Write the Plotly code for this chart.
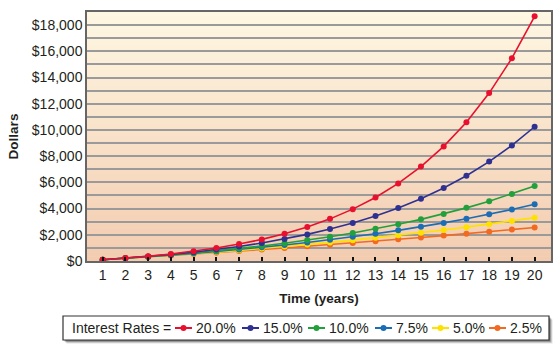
import plotly.graph_objects as go

years = list(range(1, 21))
rate_labels = ["20.0%", "15.0%", "10.0%", "7.5%", "5.0%", "2.5%"]
v20 = [100, 220, 364, 537, 744, 993, 1292, 1650, 2080, 2596, 3215, 3958, 4850, 5920, 7204, 8744, 10593, 12812, 15474, 18669]
v15 = [100, 215, 347, 499, 674, 875, 1107, 1373, 1679, 2030, 2435, 2900, 3435, 4050, 4758, 5572, 6508, 7584, 8821, 10244]
v10 = [100, 210, 331, 464, 611, 772, 949, 1144, 1358, 1594, 1853, 2138, 2452, 2798, 3177, 3595, 4054, 4560, 5116, 5728]
v75 = [100, 208, 323, 447, 581, 724, 879, 1045, 1223, 1415, 1621, 1842, 2081, 2337, 2612, 2908, 3226, 3568, 3935, 4330]
v50 = [100, 205, 315, 431, 553, 680, 814, 955, 1103, 1258, 1421, 1592, 1771, 1960, 2158, 2366, 2584, 2813, 3054, 3307]
v25 = [100, 203, 308, 415, 526, 639, 755, 874, 995, 1120, 1248, 1380, 1514, 1652, 1793, 1938, 2086, 2239, 2395, 2554]
series = [v20, v15, v10, v75, v50, v25]
colors = ["#E8102E", "#2E3192", "#22A03C", "#1B6DB6", "#FFE100", "#F26A22"]

FONT = "Liberation Sans, Arial, sans-serif"
W, H = 560, 352
ML, MR, MT, MB = 87, 9, 12, 91
PW, PH = W - ML - MR, H - MT - MB


def px2x(px):
    return (px - ML) / PW


def px2y(py):
    return (H - MB - py) / PH


fig = go.Figure()
for lab, vals, col in reversed(list(zip(rate_labels, series, colors))):
    fig.add_trace(go.Scatter(
        x=years, y=vals, name=lab, mode="lines+markers",
        line=dict(color=col, width=1.6),
        marker=dict(color=col, size=6),
        showlegend=False,
    ))

shapes = []
annotations = []
# gradient background stripes
top = (254, 247, 226)
bot = (243, 204, 176)
n = 60
for i in range(n):
    t = i / (n - 1)
    c = tuple(round(bot[k] + (top[k] - bot[k]) * t) for k in range(3))
    shapes.append(dict(type="rect", xref="x domain", yref="y domain",
                       x0=0, x1=1, y0=i / n, y1=(i + 1) / n + 0.002,
                       fillcolor="rgb(%d,%d,%d)" % c, line=dict(width=0),
                       layer="below"))

# legend box with shadow
bx0, bx1, by0, by1 = 63, 549, 316, 340
for off, alpha in [(3.5, 0.12), (2.5, 0.2), (1.5, 0.3)]:
    shapes.append(dict(type="rect", xref="paper", yref="paper",
                       x0=px2x(bx0 + off), x1=px2x(bx1 + off),
                       y0=px2y(by1 + off), y1=px2y(by0 + off),
                       fillcolor="rgba(0,0,0,%.2f)" % alpha, line=dict(width=0)))
shapes.append(dict(type="rect", xref="paper", yref="paper",
                   x0=px2x(bx0), x1=px2x(bx1), y0=px2y(by1), y1=px2y(by0),
                   fillcolor="white", line=dict(color="#333", width=1.2)))
ly = 328
annotations.append(dict(xref="paper", yref="paper", x=px2x(70), y=px2y(ly),
                        xanchor="left", yanchor="middle", showarrow=False,
                        text="Interest Rates =", font=dict(size=14, family=FONT, color="#231F20")))
sym_x = [175, 242, 308, 375, 432, 489]
for lab, col, sx in zip(rate_labels, colors, sym_x):
    shapes.append(dict(type="line", xref="paper", yref="paper",
                       x0=px2x(sx), x1=px2x(sx + 17), y0=px2y(ly), y1=px2y(ly),
                       line=dict(color=col, width=2)))
    cx = sx + 8.5
    shapes.append(dict(type="circle", xref="paper", yref="paper",
                       x0=px2x(cx - 3), x1=px2x(cx + 3), y0=px2y(ly + 3), y1=px2y(ly - 3),
                       fillcolor=col, line=dict(color=col, width=0)))
    annotations.append(dict(xref="paper", yref="paper", x=px2x(sx + 19), y=px2y(ly),
                            xanchor="left", yanchor="middle", showarrow=False,
                            text=lab, font=dict(size=14, family=FONT, color="#231F20")))

fig.update_layout(
    width=W, height=H,
    margin=dict(l=ML, r=MR, t=MT, b=MB, autoexpand=False),
    paper_bgcolor="white", plot_bgcolor="#F8E2C8",
    font=dict(family=FONT, size=14, color="#231F20"),
    shapes=shapes, annotations=annotations,
    showlegend=False,
    xaxis=dict(
        range=[0.31, 20.72], tickmode="array", tickvals=years,
        ticktext=[str(y) for y in years],
        ticks="inside", ticklen=4, tickwidth=1.5, tickcolor="#111",
        showgrid=False, zeroline=False, automargin=False,
        showline=True, linecolor="#666", linewidth=1.5, mirror=True,
        tickfont=dict(size=14),
        title=dict(text="<b>Time (years)</b>", font=dict(size=13.5), standoff=12),
    ),
    yaxis=dict(
        range=[0, 19000], tickmode="linear", tick0=0, dtick=2000,
        tickprefix="$", tickformat=",d", automargin=False,
        showgrid=True, gridcolor="#9A9A9A", gridwidth=2,
        minor=dict(dtick=1000, showgrid=True, gridcolor="#9A9A9A", gridwidth=2),
        zeroline=False, ticks="",
        showline=True, linecolor="#666", linewidth=1.5, mirror=True,
        tickfont=dict(size=14),
        title=dict(text="<b>Dollars</b>", font=dict(size=13.5), standoff=10),
    ),
)

fig.write_html("out.html")
